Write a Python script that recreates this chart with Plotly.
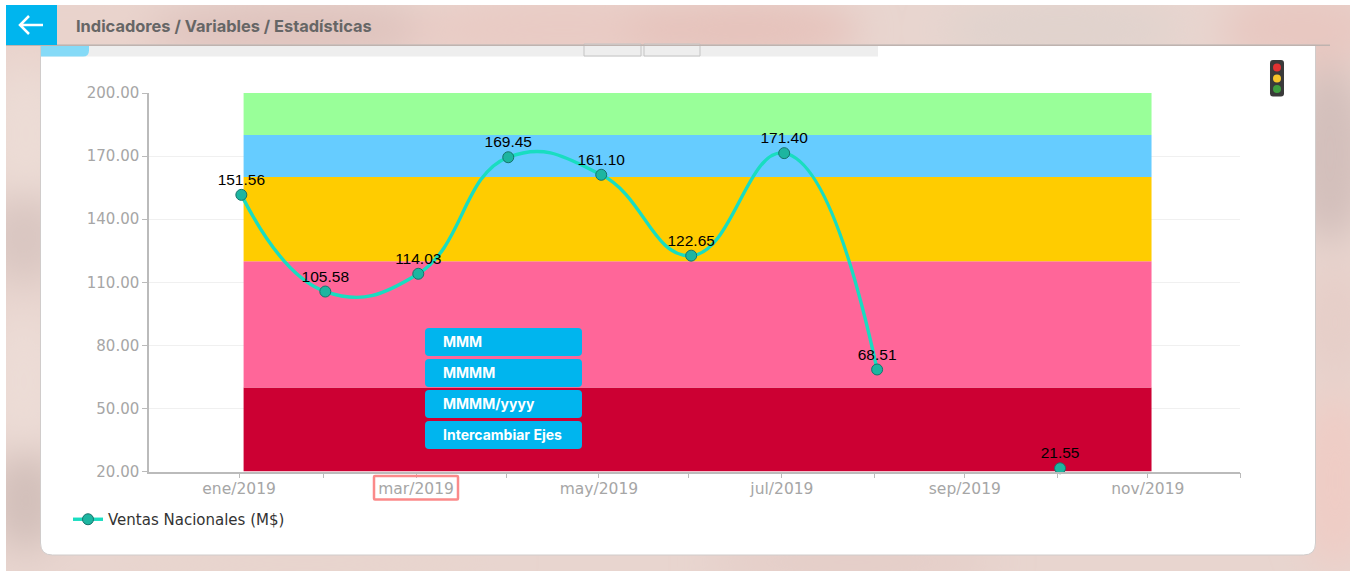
import base64
import plotly.graph_objects as go

W, H = 1350, 571

# ---------- chart data ----------
series_name = "Ventas Nacionales (M$)"
dates = ["2019-01-31", "2019-02-28", "2019-03-31", "2019-04-30", "2019-05-31",
         "2019-06-30", "2019-07-31", "2019-08-31", "2019-09-30", "2019-10-31"]
values = [151.56, 105.58, 114.03, 169.45, 161.10, 122.65, 171.40, 68.51, None, 21.55]
labels = ["151.56", "105.58", "114.03", "169.45", "161.10", "122.65", "171.40", "68.51", "", "21.55"]

tick_dates = ["2019-01-30 06:00", "2019-02-27 06:00", "2019-03-30 06:00", "2019-04-29 06:00",
              "2019-05-30 06:00", "2019-06-29 06:00", "2019-07-30 06:00", "2019-08-30 06:00",
              "2019-09-29 06:00", "2019-10-30 06:00", "2019-11-29 06:00", "2019-12-30"]
tick_labels = ["ene/2019", "", "mar/2019", "", "may/2019", "", "jul/2019", "", "sep/2019", "", "nov/2019", ""]
y_ticks = [20, 50, 80, 110, 140, 170, 200]
y_tick_labels = ["20.00", "50.00", "80.00", "110.00", "140.00", "170.00", "200.00"]

band_start = "2019-01-31 18:00"
band_end = "2019-11-30 12:00"
band_limits = [20, 60, 120, 160, 180, 200]
band_colors = ["#CC0033", "#FF6699", "#FFCC00", "#66CCFF", "#99FF99"]

button_labels = ["MMM", "MMMM", "MMMM/yyyy", "Intercambiar Ejes"]
page_title = "Indicadores / Variables / Estadísticas"


# ---------- helpers for page furniture (pixel -> paper) ----------
def px(x):
    return x / W


def py(y):
    return 1 - y / H


def round_rect(x0, y0, x1, y1, r):
    tl = tr = bl = br = r
    if isinstance(r, (tuple, list)):
        tl, tr, br, bl = r
    def P(x, y):
        return f"{px(x):.5f},{py(y):.5f}"
    return (f"M{P(x0 + tl, y0)} L{P(x1 - tr, y0)} Q{P(x1, y0)} {P(x1, y0 + tr)} "
            f"L{P(x1, y1 - br)} Q{P(x1, y1)} {P(x1 - br, y1)} L{P(x0 + bl, y1)} "
            f"Q{P(x0, y1)} {P(x0, y1 - bl)} L{P(x0, y0 + tl)} Q{P(x0, y0)} {P(x0 + tl, y0)} Z")


def paper_rect(x0, y0, x1, y1, fill, layer="below", line=None):
    return dict(type="rect", xref="paper", yref="paper", x0=px(x0), x1=px(x1), y0=py(y1), y1=py(y0),
                fillcolor=fill, line=dict(width=1, color=line) if line else dict(width=0), layer=layer)


def paper_path(path, fill, layer="below", line=None, lw=1):
    return dict(type="path", xref="paper", yref="paper", path=path, fillcolor=fill,
                line=dict(width=lw, color=line) if line else dict(width=0), layer=layer)


def paper_circle(cx, cy, r, fill):
    return dict(type="circle", xref="paper", yref="paper", x0=px(cx - r), x1=px(cx + r),
                y0=py(cy + r), y1=py(cy - r), fillcolor=fill, line=dict(width=0), layer="above")


# ---------- soft blurred page background ----------
blobs = [
    (60, 25, 150, 40, "#e9d3cc"), (300, 25, 160, 30, "#dfc3bd"), (560, 25, 160, 35, "#e9cbc4"),
    (740, 25, 120, 30, "#e6c2bb"), (1060, 25, 120, 30, "#e0d3cd"), (1300, 25, 80, 40, "#e8c8c1"),
    (20, 130, 40, 70, "#ecdcd5"), (18, 235, 40, 45, "#d9c6c1"), (18, 380, 40, 70, "#ecdcd6"),
    (20, 500, 35, 50, "#d2bfba"), (1330, 150, 40, 90, "#d3bfbb"), (1335, 320, 30, 60, "#e6cec8"),
    (1335, 480, 35, 90, "#efccc5"), (300, 560, 200, 14, "#e8d4cd"), (850, 562, 150, 12, "#e2c8c2"),
]
ell = "".join(f'<ellipse cx="{x}" cy="{y}" rx="{a}" ry="{b}" fill="{c}"/>' for x, y, a, b, c in blobs)
svg = (f'<svg xmlns="http://www.w3.org/2000/svg" width="{W}" height="{H}" viewBox="0 0 {W} {H}">'
       f'<defs><filter id="b" x="-30%" y="-30%" width="160%" height="160%"><feGaussianBlur stdDeviation="18"/></filter></defs>'
       f'<rect width="{W}" height="{H}" fill="#e8d5cf"/><g filter="url(#b)">{ell}</g></svg>')
bg_uri = "data:image/svg+xml;base64," + base64.b64encode(svg.encode()).decode()

# ---------- figure ----------
fig = go.Figure()

fig.add_trace(go.Scatter(
    x=dates, y=values, mode="lines+markers", name=series_name,
    line=dict(color="#19DDC0", width=3.4, shape="spline", smoothing=1.3),
    marker=dict(size=11, color="#1DB5A0", line=dict(color="#17736C", width=1)),
    connectgaps=False, cliponaxis=False, showlegend=True, hoverinfo="x+y",
))
fig.add_trace(go.Scatter(
    x=dates, y=values, mode="markers+text", text=labels, textposition="top center",
    marker=dict(size=8, opacity=0),
    textfont=dict(family="Liberation Sans, Arial, sans-serif", size=15.5, color="#000000"),
    showlegend=False, cliponaxis=False, hoverinfo="skip",
))

shapes = []
# page furniture below the plot
shapes.append(paper_path(round_rect(40.5, 45, 1315.5, 555, (0, 0, 12, 12)), "#ffffff", line="#d0cccb", lw=1))
shapes.append(paper_rect(41, 46, 878, 56.5, "#eeeeee"))
shapes.append(paper_path(round_rect(41, 46, 89, 56.5, (0, 0, 6, 0)), "#85daf7"))
for x0, x1 in [(584, 641), (644, 700)]:
    shapes.append(paper_rect(x0, 44, x1, 56, "#eeeeee", line="#c4c4c4"))
shapes.append(paper_rect(6, 44.5, 1330, 46, "#bfb3af"))
shapes.append(paper_rect(6, 5, 57, 45, "#00b5ee"))
shapes.append(paper_path(f"M{px(43)},{py(25)} L{px(20)},{py(25)} M{px(29)},{py(16)} L{px(20)},{py(25)} L{px(29)},{py(34)}",
                         "rgba(0,0,0,0)", line="#ffffff", lw=2.5))
# coloured bands, from the limits
for i, col in enumerate(band_colors):
    shapes.append(dict(type="rect", xref="x", yref="y", x0=band_start, x1=band_end,
                       y0=band_limits[i], y1=band_limits[i + 1], fillcolor=col,
                       line=dict(width=0), layer="between"))
# floating buttons
btn_tops = [328, 359, 390, 421]
for t in btn_tops:
    shapes.append(paper_path(round_rect(425, t, 582, t + 28, 4), "#00b5ee", layer="above"))
# highlight round the mar/2019 label
shapes.append(paper_path(round_rect(374, 476, 458, 499.5, 1), "rgba(0,0,0,0)", layer="above", line="#fb8a8a", lw=2.5))
# traffic light
shapes.append(paper_path(round_rect(1270, 60, 1284, 96.5, 3), "#3a3a3a", layer="above"))
shapes.append(paper_circle(1277, 67.5, 4, "#e23232"))
shapes.append(paper_circle(1277, 78.5, 4, "#f7c52a"))
shapes.append(paper_circle(1277, 89, 4, "#3f9e3f"))

annotations = [
    dict(text=f"<b>{page_title}</b>", xref="paper", yref="paper", x=px(74), y=py(26), xanchor="left", yanchor="middle",
         showarrow=False, font=dict(family="Inter, sans-serif", size=16.4, color="#666666")),
]
for t, lab in zip(btn_tops, button_labels):
    annotations.append(dict(text=f"<b>{lab}</b>", xref="paper", yref="paper", x=px(441), y=py(t + 13),
                            xanchor="left", yanchor="middle", showarrow=False,
                            font=dict(family="Inter, sans-serif", size=14, color="#ffffff")))

fig.update_layout(
    width=W, height=H, autosize=False,
    margin=dict(l=0, r=0, t=0, b=0, autoexpand=False),
    paper_bgcolor="#ffffff", plot_bgcolor="rgba(0,0,0,0)",
    font=dict(family="DejaVu Sans, sans-serif", size=15, color="#a6a6a6"),
    shapes=shapes, annotations=annotations,
    images=[dict(source=bg_uri, xref="paper", yref="paper", x=px(6), y=py(5), sizex=px(1344),
                 sizey=1 - 5 / H, xanchor="left", yanchor="top", sizing="stretch", layer="below")],
    showlegend=True,
    legend=dict(x=px(68), y=py(503), xanchor="left", yanchor="top", bgcolor="rgba(0,0,0,0)",
                font=dict(family="DejaVu Sans, sans-serif", size=15, color="#333333"), itemwidth=30),
    xaxis=dict(type="date", domain=[px(149), px(1240)], range=["2018-12-31 05:00", "2019-12-30"],
               tickmode="array", tickvals=tick_dates, ticktext=tick_labels, ticks="outside", ticklen=5,
               tickcolor="#bbbbbb", showline=True, linecolor="#bbbbbb", linewidth=1.5, showgrid=False,
               tickfont=dict(size=15.5, color="#a6a6a6"), zeroline=False, ticklabelstandoff=-3),
    yaxis=dict(domain=[py(471.5), py(93)], range=[20, 200], tickmode="array", tickvals=y_ticks,
               ticktext=y_tick_labels, ticks="outside", ticklen=5, tickcolor="#bbbbbb", showline=True,
               linecolor="#bbbbbb", linewidth=1.5, showgrid=True, gridcolor="#f0f0f0", gridwidth=1,
               tickfont=dict(size=15, color="#a6a6a6"), zeroline=False),
)

fig.write_html("out.html", post_script="document.body.style.margin='0';document.body.style.overflow='hidden';",
               config=dict(displayModeBar=False))
